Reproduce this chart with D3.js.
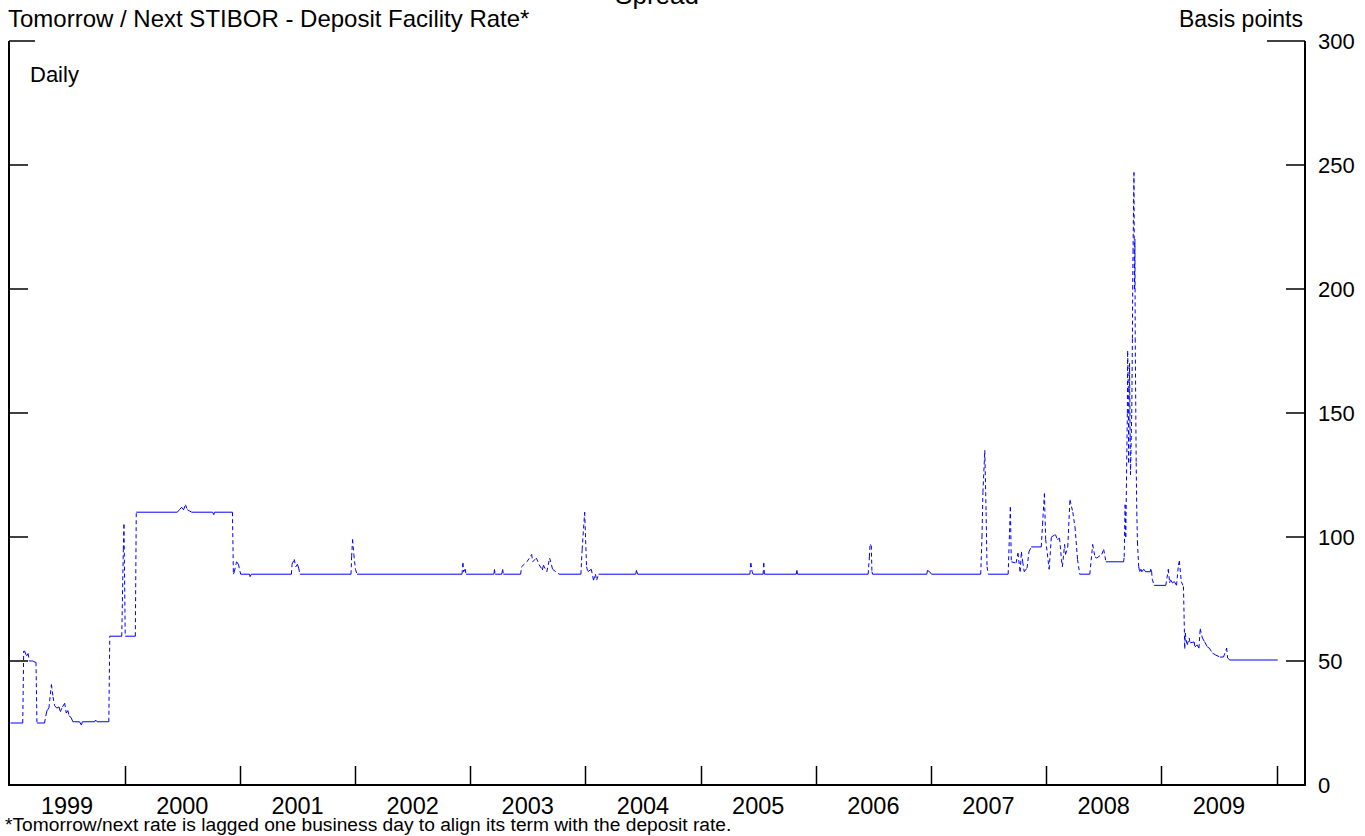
<!DOCTYPE html>
<html>
<head>
<meta charset="utf-8">
<script src="https://cdn.jsdelivr.net/npm/d3@7"></script>
<style>
  html, body { margin: 0; padding: 0; background: #fff; }
  svg { display: block; font-family: "Liberation Sans", Arial, Helvetica, sans-serif; }
</style>
</head>
<body>
<svg id="chart" width="1365" height="836"></svg>
<script>
// Spread: tomorrow/next STIBOR minus the deposit facility rate, basis points
const obsDates = [
  "1999-01-04","1999-02-12","1999-02-15","1999-02-18","1999-02-24","1999-03-01","1999-03-05","1999-03-16","1999-03-23","1999-03-26",
  "1999-03-29","1999-04-22","1999-04-28","1999-04-30","1999-05-06","1999-05-14","1999-05-19","1999-05-24","1999-05-31","1999-06-07",
  "1999-06-11","1999-06-18","1999-06-25","1999-06-30","1999-07-05","1999-07-09","1999-07-16","1999-07-21","1999-08-11","1999-08-17",
  "1999-08-20","1999-09-28","1999-10-01","1999-10-06","1999-11-12","1999-11-15","1999-12-23","1999-12-28","1999-12-30","2000-01-03",
  "2000-02-04","2000-02-07","2000-06-16","2000-06-23","2000-06-30","2000-07-06","2000-07-12","2000-07-18","2000-07-25","2000-08-01",
  "2000-10-06","2000-10-10","2000-10-12","2000-12-08","2000-12-11","2000-12-14","2000-12-21","2000-12-27","2001-01-03","2001-01-31",
  "2001-02-02","2001-02-06","2001-06-13","2001-06-15","2001-06-22","2001-06-27","2001-07-02","2001-07-06","2001-07-10","2001-12-19",
  "2001-12-21","2001-12-24","2001-12-28","2002-01-02","2002-01-07","2002-12-06","2002-12-09","2002-12-11","2002-12-16","2002-12-19",
  "2003-03-17","2003-03-19","2003-03-21","2003-04-11","2003-04-14","2003-04-16","2003-06-10","2003-06-13","2003-06-30","2003-07-15",
  "2003-07-18","2003-07-30","2003-08-08","2003-08-18","2003-08-21","2003-09-01","2003-09-10","2003-09-16","2003-09-19","2003-10-10",
  "2003-12-18","2003-12-22","2003-12-30","2004-01-05","2004-01-09","2004-01-20","2004-01-27","2004-02-02","2004-02-06","2004-02-12",
  "2004-06-09","2004-06-11","2004-06-15","2005-06-06","2005-06-09","2005-06-13","2005-06-16","2005-07-18","2005-07-20","2005-07-22",
  "2005-10-31","2005-11-02","2005-11-04","2006-06-16","2006-06-20","2006-06-22","2006-06-26","2006-06-28","2006-06-30","2006-12-19",
  "2006-12-21","2006-12-28","2007-01-03","2007-06-08","2007-06-12","2007-06-15","2007-06-21","2007-06-25","2007-06-28","2007-07-02",
  "2007-09-03","2007-09-10","2007-09-13","2007-09-28","2007-10-04","2007-10-11","2007-10-15","2007-10-19","2007-10-24","2007-11-02",
  "2007-11-08","2007-11-15","2007-12-17","2007-12-21","2007-12-27","2007-12-31","2008-01-11","2008-01-18","2008-01-31","2008-02-06",
  "2008-02-13","2008-02-19","2008-02-22","2008-02-29","2008-03-03","2008-03-10","2008-03-17","2008-03-26","2008-04-02","2008-04-10",
  "2008-04-17","2008-05-19","2008-05-28","2008-06-04","2008-06-10","2008-06-26","2008-07-02","2008-07-09","2008-09-03","2008-09-05",
  "2008-09-08","2008-09-10","2008-09-12","2008-09-15","2008-09-16","2008-09-18","2008-09-19","2008-09-22","2008-09-24","2008-09-25",
  "2008-09-29","2008-10-01","2008-10-02","2008-10-03","2008-10-06","2008-10-07","2008-10-08","2008-10-09","2008-10-10","2008-10-13",
  "2008-10-15","2008-10-17","2008-10-21","2008-10-24","2008-10-28","2008-10-31","2008-11-06","2008-11-12","2008-11-27","2008-11-28",
  "2008-12-01","2008-12-03","2008-12-09","2009-01-15","2009-01-23","2009-01-27","2009-01-30","2009-02-05","2009-02-11","2009-02-18",
  "2009-02-24","2009-02-27","2009-03-05","2009-03-12","2009-03-16","2009-03-18","2009-03-20","2009-03-24","2009-03-30","2009-04-02",
  "2009-04-15","2009-04-17","2009-04-24","2009-04-30","2009-05-04","2009-05-11","2009-05-18","2009-05-20","2009-05-27","2009-06-02",
  "2009-06-12","2009-06-22","2009-07-06","2009-07-17","2009-07-27","2009-07-30","2009-08-06","2010-01-05"
];

const spreadBp = [
  25, 25, 54, 54, 52, 53, 50, 50, 49.5, 49.5,
  25, 25, 29, 30, 31, 40.5, 35.5, 32, 31, 31.5,
  29.5, 31.5, 33, 29, 30, 28, 27, 25.5, 25.5, 24.2,
  25.5, 25.5, 26.2, 25.5, 25.5, 60, 60, 95, 105, 60,
  60, 110, 110, 111, 112, 111, 113, 111, 110.5, 110,
  110, 109, 110, 110, 85, 86, 90, 89, 85, 85,
  84, 85, 85, 89, 91, 88, 89, 87.5, 85, 85,
  92, 99, 93, 87, 85, 85, 89.5, 86, 87, 85,
  85, 87, 85, 85, 87, 85, 85, 88, 90, 93,
  90, 91.5, 88.7, 86.7, 88.7, 86, 91.5, 88.7, 87, 85,
  85, 95, 110, 88, 86, 87, 82.6, 85, 82.6, 85,
  85, 86.5, 85, 85, 89.5, 86, 85, 85, 89.5, 85,
  85, 86.5, 85, 85, 92, 97, 96.5, 86, 85, 85,
  86.5, 86, 85, 85, 100, 118, 135, 110, 88, 85,
  85, 112, 90, 89.5, 93.5, 86, 94, 90, 86, 87.5,
  94, 96, 96, 105, 117.5, 99, 87, 100, 101, 99,
  99.5, 91, 88, 97, 93, 96, 115, 110, 104, 91,
  85, 85, 97, 92, 91.5, 93, 95, 90, 90, 92,
  113, 100, 120, 150, 175, 160, 130, 170, 140, 125,
  150, 180, 200, 215, 247, 210, 200, 220, 180, 130,
  110, 98, 88, 86, 87, 86, 87, 86, 86, 87,
  86, 83, 80.5, 80.5, 87, 81.5, 82.7, 81.5, 82, 80.5,
  88.7, 90.3, 82, 80, 55, 61.3, 58.5, 56.5, 59.3, 57.3,
  57.7, 55.6, 56.5, 55.2, 63, 59.3, 57.7, 57.3, 55.6, 55.2,
  53.2, 52.4, 51.6, 51.6, 55.2, 51.2, 50.4, 50.4
];

const yearLabels = ["1999","2000","2001","2002","2003","2004","2005","2006","2007","2008","2009"];
const yearBreaks = ["2000","2001","2002","2003","2004","2005","2006","2007","2008","2009","2010"];
const valueTicks = [0, 50, 100, 150, 200, 250, 300];

const svg = d3.select("#chart");
const W = 1365, H = 836;
const plotL = 9, plotR = 1305, plotT = 41, plotB = 785;

svg.append("rect").attr("width", W).attr("height", H).attr("fill", "#fff");

const parseDay = d3.utcParse("%Y-%m-%d");
const parseYear = d3.utcParse("%Y");

const x = d3.scaleUtc()
  .domain([parseYear("1999"), parseYear("2010")])
  .range([9.5, 1276.5]);
const y = d3.scaleLinear().domain([0, 300]).range([plotB, plotT]);

// Series: flat stretches solid, moves dashed
const pts = obsDates.map((d, i) => ({ date: parseDay(d), v: spreadBp[i] }));
const segs = d3.pairs(pts);
svg.append("g")
  .attr("fill", "none")
  .attr("stroke", "#0000ff")
  .attr("stroke-width", 1)
  .selectAll("line")
  .data(segs)
  .join("line")
  .attr("x1", d => x(d[0].date))
  .attr("y1", d => y(d[0].v))
  .attr("x2", d => x(d[1].date))
  .attr("y2", d => y(d[1].v))
  .attr("stroke-dasharray", d => d[0].v === d[1].v ? null : "4,3");

// Frame and axes
const axes = svg.append("g").attr("stroke", "#000").attr("fill", "none");
axes.append("line").attr("x1", plotL).attr("x2", plotL).attr("y1", plotT).attr("y2", plotB).attr("stroke-width", 2);
axes.append("line").attr("x1", plotR).attr("x2", plotR).attr("y1", plotT).attr("y2", plotB).attr("stroke-width", 2);
axes.append("line").attr("x1", plotL - 1).attr("x2", plotR + 1).attr("y1", plotB).attr("y2", plotB).attr("stroke-width", 2);

// value ticks on both sides (the top one is longer)
valueTicks.filter(v => v > 0).forEach(v => {
  const isTop = v === 300;
  axes.append("line").attr("x1", plotL).attr("x2", plotL + (isTop ? 26 : 19))
    .attr("y1", y(v)).attr("y2", y(v)).attr("stroke-width", 1.5);
  axes.append("line").attr("x1", plotR - (isTop ? 38 : 19)).attr("x2", plotR)
    .attr("y1", y(v)).attr("y2", y(v)).attr("stroke-width", 1.5);
});

// year boundary ticks
yearBreaks.forEach(yr => {
  const xx = Math.round(x(parseYear(yr))) + 0.5;
  axes.append("line").attr("x1", xx).attr("x2", xx)
    .attr("y1", plotB).attr("y2", plotB - 19).attr("stroke-width", 1.5);
});

// Labels
const txt = svg.append("g").attr("fill", "#000");

txt.selectAll("text.val")
  .data(valueTicks)
  .join("text")
  .attr("class", "val")
  .attr("x", plotR + 13)
  .attr("y", d => y(d) + 8)
  .attr("font-size", 22)
  .text(d => d);

txt.selectAll("text.yr")
  .data(yearLabels)
  .join("text")
  .attr("class", "yr")
  .attr("x", d => (x(parseYear(d)) + x(parseYear(String(+d + 1)))) / 2)
  .attr("y", 814)
  .attr("text-anchor", "middle")
  .attr("font-size", 23.5)
  .text(d => d);

txt.append("text").attr("x", (plotL + plotR) / 2).attr("y", 4)
  .attr("text-anchor", "middle").attr("font-size", 26).text("Spread");

txt.append("text").attr("x", 8).attr("y", 27).attr("font-size", 24)
  .text("Tomorrow / Next STIBOR - Deposit Facility Rate*");

txt.append("text").attr("x", 1303).attr("y", 27).attr("text-anchor", "end")
  .attr("font-size", 23).text("Basis points");

txt.append("text").attr("x", 30).attr("y", 82).attr("font-size", 22).text("Daily");

txt.append("text").attr("x", 5).attr("y", 831).attr("font-size", 19.2)
  .text("*Tomorrow/next rate is lagged one business day to align its term with the deposit rate.");
</script>
</body>
</html>
